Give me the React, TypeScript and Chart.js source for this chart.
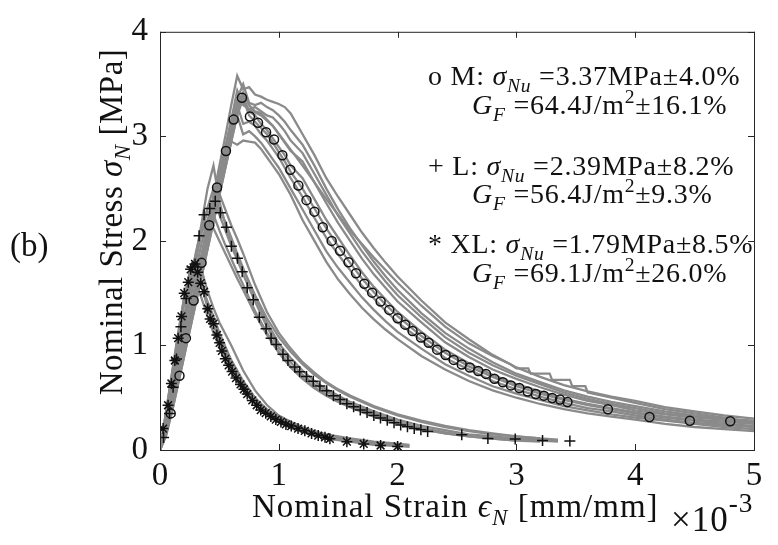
import React, { useEffect, useRef } from "react";
import { Chart, registerables } from "chart.js";

Chart.register(...registerables);

const SERIF = "'Liberation Serif', 'Times New Roman', serif";
const GRAY = "#8a8a8a";
const INK = "#111111";

// ---------- axis ticks ----------
const xTicks = [0, 1, 2, 3, 4, 5];
const yTicks = [0, 1, 2, 3, 4];

// ---------- mean curves (markers) ----------
const mMeanX = [0.09, 0.164, 0.218, 0.283, 0.35, 0.415, 0.48, 0.555, 0.62, 0.69, 0.757, 0.825, 0.893, 0.96, 1.03, 1.097, 1.165, 1.233, 1.3, 1.37, 1.445, 1.516, 1.587, 1.65, 1.72, 1.786, 1.857, 1.93, 2.0, 2.064, 2.126, 2.197, 2.262, 2.333, 2.404, 2.472, 2.54, 2.608, 2.679, 2.744, 2.815, 2.886, 2.954, 3.025, 3.095, 3.163, 3.231, 3.302, 3.367, 3.43, 3.77, 4.12, 4.46, 4.8];
const mMeanY = [0.35, 0.71, 1.07, 1.43, 1.79, 2.15, 2.51, 2.86, 3.16, 3.37, 3.19, 3.13, 3.04, 2.97, 2.82, 2.68, 2.53, 2.39, 2.28, 2.13, 2.0, 1.905, 1.795, 1.69, 1.59, 1.505, 1.42, 1.34, 1.26, 1.199, 1.138, 1.076, 1.025, 0.96, 0.908, 0.862, 0.817, 0.789, 0.755, 0.728, 0.682, 0.648, 0.618, 0.593, 0.56, 0.535, 0.52, 0.498, 0.483, 0.459, 0.39, 0.315, 0.28, 0.275];

const lMeanX = [0.03, 0.08, 0.11, 0.139, 0.176, 0.22, 0.27, 0.329, 0.371, 0.419, 0.465, 0.508, 0.559, 0.601, 0.652, 0.692, 0.734, 0.785, 0.836, 0.893, 0.935, 0.978, 1.035, 1.077, 1.134, 1.176, 1.233, 1.29, 1.346, 1.403, 1.46, 1.516, 1.573, 1.63, 1.686, 1.743, 1.8, 1.856, 1.913, 1.97, 2.026, 2.083, 2.14, 2.196, 2.253, 2.54, 2.76, 2.99, 3.22, 3.45];
const lMeanY = [0.12, 0.35, 0.6, 0.87, 1.18, 1.45, 1.75, 2.05, 2.25, 2.31, 2.38, 2.27, 2.13, 1.95, 1.835, 1.706, 1.553, 1.437, 1.27, 1.16, 1.07, 1.01, 0.917, 0.856, 0.795, 0.749, 0.703, 0.658, 0.612, 0.566, 0.52, 0.483, 0.443, 0.413, 0.382, 0.358, 0.33, 0.306, 0.284, 0.26, 0.239, 0.223, 0.205, 0.193, 0.177, 0.145, 0.11, 0.105, 0.09, 0.085];

const xlMeanX = [0.026, 0.068, 0.096, 0.125, 0.153, 0.181, 0.204, 0.238, 0.258, 0.295, 0.317, 0.343, 0.371, 0.402, 0.422, 0.45, 0.479, 0.502, 0.521, 0.55, 0.578, 0.607, 0.64, 0.678, 0.706, 0.734, 0.777, 0.814, 0.848, 0.89, 0.933, 0.975, 1.018, 1.06, 1.105, 1.162, 1.219, 1.276, 1.332, 1.389, 1.43, 1.573, 1.715, 1.857, 2.0];
const xlMeanY = [0.205, 0.428, 0.636, 0.856, 1.07, 1.278, 1.5, 1.605, 1.728, 1.78, 1.7, 1.596, 1.514, 1.351, 1.254, 1.208, 1.1, 1.025, 0.948, 0.872, 0.81, 0.75, 0.688, 0.627, 0.581, 0.535, 0.474, 0.428, 0.382, 0.352, 0.321, 0.291, 0.269, 0.245, 0.229, 0.205, 0.183, 0.159, 0.138, 0.122, 0.107, 0.08, 0.058, 0.043, 0.034];

// ---------- individual tests, size M (gray) ----------
const mX = [0, 0.05, 0.1, 0.15, 0.2, 0.25, 0.3, 0.35, 0.4, 0.45, 0.5, 0.55, 0.6, 0.65, 0.7, 0.75, 0.8, 0.85, 0.9, 0.95, 1.0, 1.05, 1.1, 1.2, 1.3, 1.4, 1.5, 1.6, 1.7, 1.8, 1.9, 2.0, 2.2, 2.4, 2.6, 2.8, 3.0, 3.2, 3.4, 3.6, 3.8, 4.0, 4.25, 4.5, 4.75, 5.0];
const mA = [0, 0.18, 0.45, 0.74, 1.02, 1.3, 1.6, 1.88, 2.15, 2.44, 2.72, 3.0, 3.3, 3.58, 3.45, 3.47, 3.4, 3.38, 3.35, 3.33, 3.31, 3.28, 3.22, 3.02, 2.82, 2.6, 2.42, 2.25, 2.08, 1.93, 1.79, 1.66, 1.43, 1.22, 1.06, 0.91, 0.79, 0.7, 0.62, 0.56, 0.51, 0.47, 0.41, 0.37, 0.33, 0.3];
const mB = [0, 0.15, 0.4, 0.68, 0.95, 1.22, 1.5, 1.77, 2.04, 2.3, 2.57, 2.84, 3.1, 3.36, 3.5, 3.32, 3.3, 3.32, 3.28, 3.25, 3.2, 3.14, 3.06, 2.92, 2.72, 2.5, 2.3, 2.12, 1.96, 1.8, 1.66, 1.53, 1.31, 1.12, 0.97, 0.84, 0.73, 0.65, 0.57, 0.51, 0.46, 0.42, 0.37, 0.33, 0.3, 0.28];
const mC = [0, 0.14, 0.38, 0.64, 0.9, 1.17, 1.43, 1.7, 1.96, 2.22, 2.48, 2.74, 3.0, 3.25, 3.38, 3.24, 3.2, 3.12, 3.06, 2.98, 2.9, 2.82, 2.72, 2.6, 2.4, 2.2, 2.03, 1.86, 1.7, 1.56, 1.44, 1.32, 1.13, 0.96, 0.83, 0.72, 0.63, 0.56, 0.49, 0.44, 0.4, 0.36, 0.32, 0.29, 0.27, 0.25];
const mD = [0, 0.16, 0.42, 0.7, 0.98, 1.25, 1.52, 1.8, 2.07, 2.34, 2.6, 2.86, 3.12, 3.3, 3.12, 3.14, 3.1, 3.02, 2.96, 2.88, 2.8, 2.7, 2.6, 2.42, 2.22, 2.03, 1.87, 1.72, 1.57, 1.45, 1.33, 1.22, 1.05, 0.88, 0.77, 0.66, 0.58, 0.51, 0.45, 0.4, 0.37, 0.33, 0.29, 0.26, 0.24, 0.22];
const mE = [0, 0.17, 0.45, 0.73, 1.01, 1.29, 1.56, 1.84, 2.11, 2.38, 2.65, 2.9, 3.15, 3.2, 3.02, 3.05, 3.0, 2.94, 2.86, 2.78, 2.7, 2.6, 2.5, 2.3, 2.1, 1.9, 1.74, 1.6, 1.46, 1.34, 1.23, 1.13, 0.97, 0.82, 0.71, 0.61, 0.54, 0.48, 0.42, 0.38, 0.34, 0.31, 0.28, 0.25, 0.22, 0.2];
const mF = [0, 0.16, 0.43, 0.7, 0.97, 1.24, 1.5, 1.77, 2.03, 2.28, 2.52, 2.75, 2.95, 2.92, 2.96, 2.95, 2.94, 2.88, 2.8, 2.72, 2.64, 2.54, 2.44, 2.2, 2.0, 1.8, 1.63, 1.49, 1.36, 1.25, 1.15, 1.06, 0.9, 0.77, 0.66, 0.57, 0.5, 0.44, 0.39, 0.35, 0.32, 0.29, 0.25, 0.22, 0.2, 0.18];
const mG = [0, 0.15, 0.39, 0.66, 0.93, 1.2, 1.47, 1.74, 2.0, 2.27, 2.54, 2.8, 3.06, 3.3, 3.42, 3.3, 3.24, 3.22, 3.16, 3.1, 3.02, 2.94, 2.86, 2.76, 2.56, 2.36, 2.17, 2.0, 1.83, 1.68, 1.55, 1.42, 1.22, 1.03, 0.89, 0.77, 0.68, 0.6, 0.53, 0.47, 0.43, 0.38, 0.34, 0.31, 0.29, 0.27];
const mI = [0, 0.16, 0.41, 0.68, 0.95, 1.22, 1.5, 1.77, 2.05, 2.32, 2.6, 2.88, 3.16, 3.44, 3.3, 3.26, 3.28, 3.24, 3.2, 3.18, 3.12, 3.05, 2.96, 2.84, 2.64, 2.44, 2.24, 2.07, 1.9, 1.75, 1.61, 1.48, 1.27, 1.08, 0.93, 0.81, 0.71, 0.63, 0.55, 0.49, 0.44, 0.4, 0.35, 0.32, 0.29, 0.26];
const mJ = [0, 0.13, 0.36, 0.62, 0.88, 1.14, 1.4, 1.66, 1.92, 2.18, 2.44, 2.7, 2.95, 3.2, 3.36, 3.2, 3.14, 3.08, 3.02, 2.94, 2.85, 2.76, 2.66, 2.5, 2.31, 2.12, 1.95, 1.79, 1.64, 1.51, 1.39, 1.28, 1.09, 0.93, 0.8, 0.7, 0.61, 0.54, 0.48, 0.43, 0.39, 0.35, 0.31, 0.28, 0.25, 0.23];
// one test with a stepped (coarse-sampled) tail
const mHX = [0, 0.1, 0.2, 0.3, 0.4, 0.5, 0.6, 0.68, 0.75, 0.85, 0.95, 1.05, 1.2, 1.4, 1.6, 1.8, 2.0, 2.2, 2.4, 2.6, 2.8, 2.95, 3.0, 3.1, 3.12, 3.28, 3.3, 3.45, 3.47, 3.58, 3.6, 3.8, 4.0, 4.25, 4.5, 4.75, 4.9];
const mHY = [0, 0.36, 0.88, 1.4, 1.92, 2.44, 2.95, 3.36, 3.26, 3.2, 3.1, 2.95, 2.72, 2.4, 2.1, 1.84, 1.6, 1.38, 1.18, 1.02, 0.9, 0.82, 0.78, 0.78, 0.73, 0.73, 0.67, 0.67, 0.61, 0.61, 0.55, 0.5, 0.45, 0.39, 0.35, 0.31, 0.28];

// ---------- individual tests, size L (gray) ----------
const lX = [0, 0.05, 0.1, 0.15, 0.2, 0.25, 0.3, 0.35, 0.4, 0.45, 0.5, 0.55, 0.6, 0.65, 0.7, 0.8, 0.9, 1.0, 1.1, 1.2, 1.3, 1.4, 1.5, 1.6, 1.8, 2.0, 2.2, 2.4, 2.6, 2.8, 3.0, 3.2, 3.35];
const l1 = [0, 0.25, 0.55, 0.88, 1.2, 1.52, 1.85, 2.17, 2.5, 2.72, 2.38, 2.16, 1.99, 1.86, 1.73, 1.48, 1.26, 1.08, 0.94, 0.82, 0.72, 0.64, 0.57, 0.51, 0.41, 0.33, 0.27, 0.22, 0.18, 0.15, 0.13, 0.11, null];
const l2 = [0, 0.22, 0.5, 0.8, 1.1, 1.4, 1.7, 1.98, 2.2, 2.38, 2.45, 2.3, 2.15, 2.02, 1.88, 1.58, 1.32, 1.12, 0.97, 0.84, 0.74, 0.65, 0.58, 0.52, 0.42, 0.34, 0.28, 0.23, 0.19, 0.16, 0.13, 0.11, 0.1];
const l3 = [0, 0.25, 0.57, 0.9, 1.22, 1.52, 1.84, 2.12, 2.3, 2.4, 2.25, 2.1, 1.95, 1.82, 1.68, 1.42, 1.18, 0.98, 0.84, 0.72, 0.63, 0.56, 0.5, 0.44, 0.35, 0.27, 0.21, 0.17, 0.14, 0.12, 0.1, 0.09, 0.08];
const l4 = [0, 0.27, 0.6, 0.93, 1.25, 1.57, 1.88, 2.12, 2.28, 2.25, 2.1, 1.96, 1.83, 1.7, 1.58, 1.33, 1.12, 0.94, 0.8, 0.69, 0.6, 0.53, 0.47, 0.42, 0.33, 0.26, 0.2, 0.16, 0.13, 0.11, 0.09, 0.08, null];
const l5 = [0, 0.26, 0.58, 0.92, 1.24, 1.55, 1.85, 2.08, 2.2, 2.12, 2.0, 1.88, 1.76, 1.64, 1.53, 1.3, 1.1, 0.93, 0.79, 0.68, 0.59, 0.52, 0.46, 0.41, 0.32, 0.25, 0.2, 0.16, 0.13, 0.11, 0.09, null, null];
const l6 = [0, 0.24, 0.54, 0.86, 1.18, 1.5, 1.8, 2.08, 2.32, 2.5, 2.3, 2.18, 2.03, 1.88, 1.74, 1.47, 1.22, 1.02, 0.88, 0.76, 0.66, 0.58, 0.52, 0.46, 0.37, 0.29, 0.23, 0.19, 0.15, 0.13, 0.11, 0.1, 0.09];

// ---------- individual tests, size XL (gray) ----------
const xlX = [0, 0.05, 0.1, 0.15, 0.2, 0.25, 0.3, 0.35, 0.4, 0.45, 0.5, 0.6, 0.7, 0.8, 0.9, 1.0, 1.1, 1.2, 1.3, 1.4, 1.6, 1.8, 2.0, 2.1];
const xl1 = [0, 0.33, 0.7, 1.05, 1.4, 1.7, 1.85, 1.72, 1.52, 1.36, 1.22, 1.0, 0.76, 0.57, 0.43, 0.33, 0.27, 0.22, 0.18, 0.15, 0.11, 0.08, 0.06, 0.05];
const xl2 = [0, 0.34, 0.7, 1.06, 1.42, 1.7, 1.76, 1.58, 1.36, 1.2, 1.04, 0.78, 0.6, 0.46, 0.36, 0.29, 0.23, 0.18, 0.15, 0.12, 0.09, 0.06, 0.04, 0.03];
const xl3 = [0, 0.36, 0.73, 1.1, 1.44, 1.65, 1.6, 1.45, 1.28, 1.12, 0.98, 0.74, 0.57, 0.44, 0.34, 0.27, 0.21, 0.17, 0.14, 0.11, 0.08, 0.05, 0.04, null];
const xl4 = [0, 0.32, 0.68, 1.03, 1.38, 1.68, 1.82, 1.62, 1.4, 1.24, 1.08, 0.82, 0.62, 0.47, 0.37, 0.3, 0.24, 0.19, 0.16, 0.13, 0.09, 0.07, 0.05, 0.04];
const xl5 = [0, 0.35, 0.72, 1.08, 1.43, 1.68, 1.7, 1.56, 1.42, 1.28, 1.12, 0.86, 0.66, 0.5, 0.39, 0.31, 0.25, 0.2, 0.16, 0.13, 0.1, 0.07, 0.05, null];

// ---------- text ----------
type Seg = { t: string; it?: boolean; sub?: boolean; sup?: boolean };

const legendLines: { segs: Seg[]; x: number; y: number }[] = [
  { x: 428, y: 85, segs: [{ t: "o M: " }, { t: "σ", it: true }, { t: "Nu", it: true, sub: true }, { t: " =3.37MPa±4.0%" }] },
  { x: 472, y: 114, segs: [{ t: "G", it: true }, { t: "F", it: true, sub: true }, { t: " =64.4J/m" }, { t: "2", sup: true }, { t: "±16.1%" }] },
  { x: 428, y: 175, segs: [{ t: "+ L: " }, { t: "σ", it: true }, { t: "Nu", it: true, sub: true }, { t: " =2.39MPa±8.2%" }] },
  { x: 472, y: 203, segs: [{ t: "G", it: true }, { t: "F", it: true, sub: true }, { t: " =56.4J/m" }, { t: "2", sup: true }, { t: "±9.3%" }] },
  { x: 428, y: 253, segs: [{ t: "* XL: " }, { t: "σ", it: true }, { t: "Nu", it: true, sub: true }, { t: " =1.79MPa±8.5%" }] },
  { x: 472, y: 282, segs: [{ t: "G", it: true }, { t: "F", it: true, sub: true }, { t: " =69.1J/m" }, { t: "2", sup: true }, { t: "±26.0%" }] },
];
const yTitle: Seg[] = [{ t: "Nominal Stress " }, { t: "σ", it: true }, { t: "N", it: true, sub: true }, { t: " [MPa]" }];
const xTitle: Seg[] = [{ t: "Nominal Strain " }, { t: "ϵ", it: true }, { t: "N", it: true, sub: true }, { t: " [mm/mm]" }];
const xExpBase = "×10";
const xExpPow = "-3";
const panelTag = "(b)";

function segFont(s: Seg, size: number) {
  const sz = s.sub || s.sup ? size * 0.7 : size;
  return `${s.it ? "italic " : ""}${sz}px ${SERIF}`;
}
function richWidth(ctx: CanvasRenderingContext2D, segs: Seg[], size: number) {
  let w = 0;
  for (const s of segs) {
    ctx.font = segFont(s, size);
    w += ctx.measureText(s.t).width;
  }
  return w;
}
function drawRich(ctx: CanvasRenderingContext2D, segs: Seg[], x: number, y: number, size: number) {
  let cx = x;
  for (const s of segs) {
    ctx.font = segFont(s, size);
    const dy = s.sub ? size * 0.24 : s.sup ? -size * 0.38 : 0;
    ctx.fillText(s.t, cx, y + dy);
    cx += ctx.measureText(s.t).width;
  }
}

const pts = (xs: number[], ys: (number | null)[]) =>
  xs.map((x, i) => ({ x, y: ys[i] })).filter((p) => p.y !== null) as { x: number; y: number }[];

const grayLine = (xs: number[], ys: (number | null)[]) => ({
  data: pts(xs, ys),
  showLine: true,
  borderColor: GRAY,
  borderWidth: 2.3,
  pointRadius: 0,
  fill: false,
  order: 2,
});

const markerSet = (xs: number[], ys: number[], style: string, r: number) => ({
  data: pts(xs, ys),
  showLine: false,
  pointStyle: style,
  pointRadius: r,
  pointBorderColor: INK,
  pointBackgroundColor: "rgba(0,0,0,0)",
  pointBorderWidth: 1.5,
  order: 0,
});

const framePlugin = {
  id: "frame",
  afterDatasetsDraw(chart: any) {
    const { ctx, chartArea: a, scales } = chart;
    ctx.save();
    ctx.strokeStyle = "#262626";
    ctx.lineWidth = 1;
    ctx.strokeRect(a.left + 0.5, a.top + 0.5, a.right - a.left, a.bottom - a.top);
    const tl = 6;
    ctx.beginPath();
    for (const v of xTicks) {
      const px = Math.round(scales.x.getPixelForValue(v)) + 0.5;
      ctx.moveTo(px, a.bottom);
      ctx.lineTo(px, a.bottom - tl);
      ctx.moveTo(px, a.top);
      ctx.lineTo(px, a.top + tl);
    }
    for (const v of yTicks) {
      const py = Math.round(scales.y.getPixelForValue(v)) + 0.5;
      ctx.moveTo(a.left, py);
      ctx.lineTo(a.left + tl, py);
      ctx.moveTo(a.right, py);
      ctx.lineTo(a.right - tl, py);
    }
    ctx.stroke();
    ctx.restore();
  },
};

const textPlugin = {
  id: "texts",
  afterDraw(chart: any) {
    const { ctx } = chart;
    ctx.save();
    ctx.fillStyle = INK;
    ctx.textBaseline = "alphabetic";
    ctx.textAlign = "left";

    (ctx as any).letterSpacing = "0.75px";
    for (const ln of legendLines) drawRich(ctx, ln.segs, ln.x, ln.y, 28);

    // x title
    (ctx as any).letterSpacing = "1px";
    drawRich(ctx, xTitle, 252, 517, 33);

    // exponent of x axis
    ctx.font = `35px ${SERIF}`;
    ctx.fillText(xExpBase, 671, 531);
    const bw = ctx.measureText(xExpBase).width;
    ctx.font = `${35 * 0.78}px ${SERIF}`;
    ctx.fillText(xExpPow, 671 + bw, 512);

    // y title (rotated)
    (ctx as any).letterSpacing = "0.5px";
    const w = richWidth(ctx, yTitle, 33);
    ctx.save();
    ctx.translate(122, 222);
    ctx.rotate(-Math.PI / 2);
    drawRich(ctx, yTitle, -w / 2, 0, 33);
    ctx.restore();

    // panel tag
    (ctx as any).letterSpacing = "0px";
    ctx.font = `33px ${SERIF}`;
    ctx.fillText(panelTag, 10, 256);
    ctx.restore();
  },
};

export default function App() {
  const ref = useRef<HTMLCanvasElement | null>(null);
  useEffect(() => {
    if (!ref.current) return;
    const chart = new Chart(ref.current, {
      type: "scatter",
      data: {
        datasets: [
          markerSet(mMeanX, mMeanY, "circle", 4.5),
          markerSet(lMeanX, lMeanY, "cross", 5.5),
          markerSet(xlMeanX, xlMeanY, "star", 5.5),
          grayLine(mX, mA),
          grayLine(mX, mB),
          grayLine(mX, mC),
          grayLine(mX, mD),
          grayLine(mX, mE),
          grayLine(mX, mF),
          grayLine(mX, mG),
          grayLine(mX, mI),
          grayLine(mX, mJ),
          grayLine(mHX, mHY),
          grayLine(lX, l1),
          grayLine(lX, l2),
          grayLine(lX, l3),
          grayLine(lX, l4),
          grayLine(lX, l5),
          grayLine(lX, l6),
          grayLine(xlX, xl1),
          grayLine(xlX, xl2),
          grayLine(xlX, xl3),
          grayLine(xlX, xl4),
          grayLine(xlX, xl5),
        ] as any,
      },
      options: {
        responsive: false,
        animation: false,
        devicePixelRatio: 1,
        layout: { padding: { top: 13, right: 24, left: 0, bottom: 0 } },
        plugins: { legend: { display: false }, tooltip: { enabled: false } },
        scales: {
          x: {
            type: "linear",
            min: 0,
            max: 5,
            grid: { display: false, drawTicks: false },
            border: { display: false },
            afterBuildTicks: (s: any) => {
              s.ticks = xTicks.map((v) => ({ value: v }));
            },
            afterFit: (s: any) => {
              s.height = 95;
            },
            ticks: { color: INK, padding: 7, maxRotation: 0, autoSkip: false, font: { family: SERIF, size: 33 } },
          },
          y: {
            type: "linear",
            min: 0,
            max: 4,
            grid: { display: false, drawTicks: false },
            border: { display: false },
            afterBuildTicks: (s: any) => {
              s.ticks = yTicks.map((v) => ({ value: v }));
            },
            afterFit: (s: any) => {
              s.width = 160;
            },
            ticks: { color: INK, padding: 12, autoSkip: false, font: { family: SERIF, size: 33 } },
          },
        },
      },
      plugins: [framePlugin, textPlugin],
    });
    return () => chart.destroy();
  }, []);
  return (
    <div style={{ position: "fixed", left: 0, top: 0, width: 778, height: 545, background: "#fff" }}>
      <canvas ref={ref} width={778} height={545} />
    </div>
  );
}
